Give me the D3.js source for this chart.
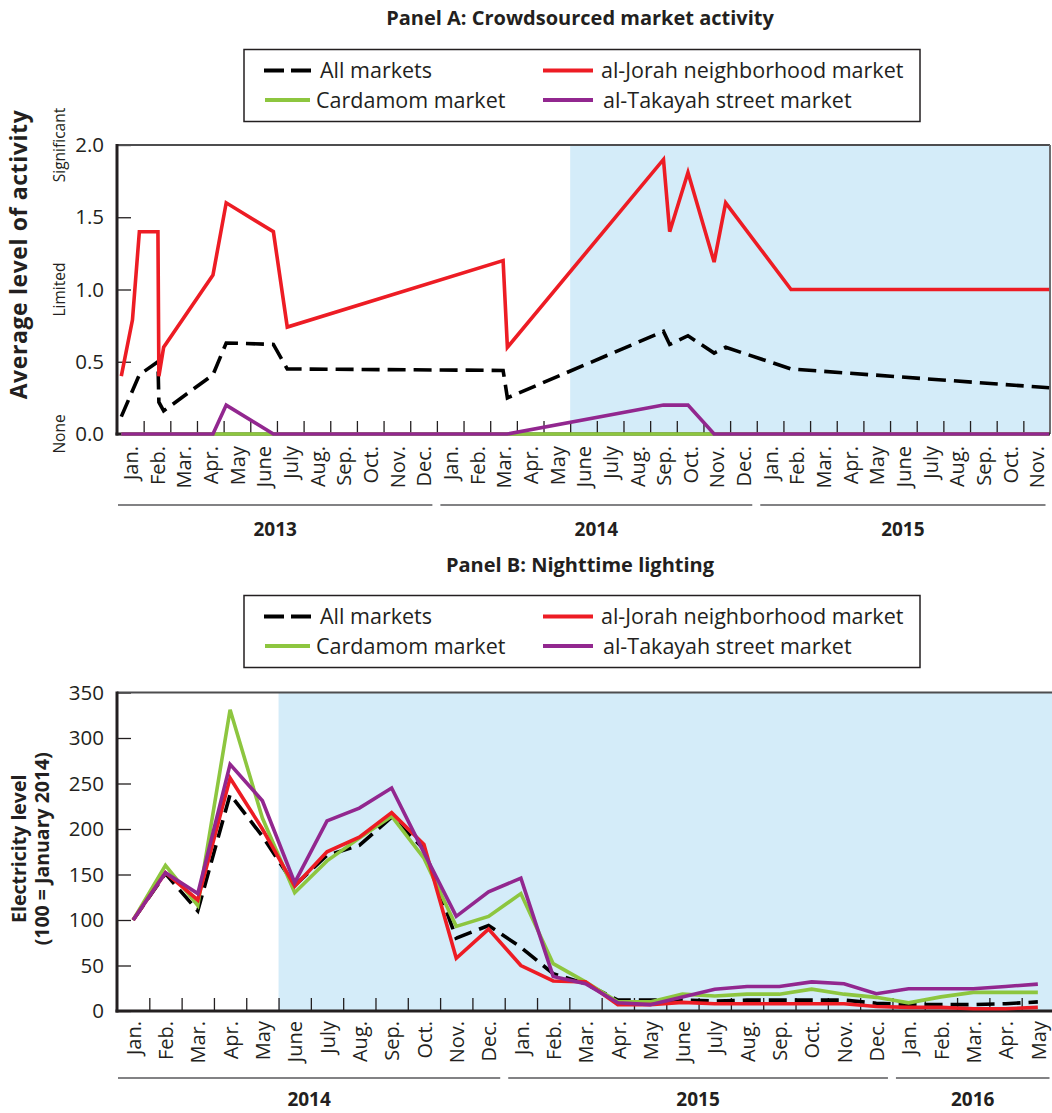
<!DOCTYPE html>
<html><head><meta charset="utf-8">
<script src="https://cdn.jsdelivr.net/npm/d3@7"></script>
<style>
body{margin:0;background:#fff;}
svg text{font-family:"Open Sans","Noto Sans",sans-serif;fill:#231f20;}
</style>
</head><body>
<svg id="chart" width="1052" height="1113"></svg>
<script>
// ---------------- DATA ----------------
const seriesNames = ["All markets", "al-Jorah neighborhood market", "Cardamom market", "al-Takayah street market"];

// Panel A: crowdsourced market activity (date, average level)
const activityAll = [
  ["2013-01-06",0.12],["2013-01-27",0.41],["2013-02-16",0.50],["2013-02-17",0.22],["2013-02-22",0.16],
  ["2013-04-19",0.41],["2013-05-04",0.63],["2013-06-27",0.62],["2013-07-13",0.45],["2014-03-16",0.44],
  ["2014-03-21",0.25],["2014-09-16",0.71],["2014-09-23",0.62],["2014-10-14",0.68],["2014-11-13",0.56],
  ["2014-11-26",0.60],["2015-02-09",0.45],["2015-11-30",0.32]];
const activityJorah = [
  ["2013-01-06",0.40],["2013-01-19",0.79],["2013-01-27",1.40],["2013-02-16",1.40],["2013-02-17",0.40],
  ["2013-02-22",0.60],["2013-04-19",1.10],["2013-05-04",1.60],["2013-06-27",1.40],["2013-07-13",0.74],
  ["2014-03-16",1.20],["2014-03-21",0.60],["2014-09-16",1.90],["2014-09-23",1.40],["2014-10-14",1.81],
  ["2014-11-13",1.19],["2014-11-26",1.60],["2015-02-09",1.00],["2015-11-30",1.00]];
const activityCardamom = [["2013-01-06",0],["2015-11-30",0]];
const activityTakayah = [
  ["2013-01-06",0],["2013-04-19",0],["2013-05-04",0.20],["2013-06-27",0],["2014-03-21",0],
  ["2014-09-16",0.20],["2014-10-14",0.20],["2014-11-13",0],["2015-11-30",0]];
const activityTicks = [0, 0.5, 1.0, 1.5, 2.0];
const activityLevels = [["None",0],["Limited",1],["Significant",2]];
const monthLabelsA = ["Jan.","Feb.","Mar.","Apr.","May","June","July","Aug.","Sep.","Oct.","Nov.","Dec.",
  "Jan.","Feb.","Mar.","Apr.","May","June","July","Aug.","Sep.","Oct.","Nov.","Dec.",
  "Jan.","Feb.","Mar.","Apr.","May","June","July","Aug.","Sep.","Oct.","Nov."];
const yearsA = [["2013",0,12],["2014",12,24],["2015",24,35]];
const shadeStartA = "2014-06-01";

// Panel B: nighttime lighting (monthly, Jan 2014 - May 2016)
const monthLabelsB = ["Jan.","Feb.","Mar.","Apr.","May","June","July","Aug.","Sep.","Oct.","Nov.","Dec.",
  "Jan.","Feb.","Mar.","Apr.","May","June","July","Aug.","Sep.","Oct.","Nov.","Dec.",
  "Jan.","Feb.","Mar.","Apr.","May"];
const lightAll      = [100,151,110,238,192,138,171,182,213,178, 80, 94, 70,41,30,12,12,12,11,12,12,12,12, 8.5, 7, 7, 7, 8,10];
const lightJorah    = [100,152,122,256,200,137,175,191,218,183, 58, 90, 50,33,32, 7, 7,9.5, 8, 8, 8, 8, 8, 5, 4, 4,2.5,2.5, 4];
const lightCardamom = [100,160,116,331,212,130,165,190,214,168, 93,104,129,52,32,10,10,18.5,16.5,18.5,18.5,24,18.5,15, 9,15.5,20.5,20.5,20.5];
const lightTakayah  = [100,152,129,271,231,141,209,223,245,174,104,131,146,38,30, 9, 7,15.5,24,27,27,32,30,19,24.5,24.5,24.5,27,29.5];
const lightTicks = [0,50,100,150,200,250,300,350];
const yearsB = [["2014",0,12],["2015",12,24],["2016",24,29]];
const shadeStartB = 5; // June 2014

// ---------------- DRAWING ----------------
const COL = {all:"#000000", jorah:"#ed1c24", card:"#8dc63f", tak:"#92278f", shade:"#d4ecf9", ink:"#231f20"};
const svg = d3.select("#chart");
svg.append("rect").attr("width",1052).attr("height",1113).attr("fill","#fff");

function monthPos(s, startYear){
  const [y,m,d] = s.split("-").map(Number);
  const dim = new Date(y, m, 0).getDate();
  return (y-startYear)*12 + (m-1) + (d-1)/dim;
}

function drawLegend(top){
  const g = svg.append("g");
  g.append("rect").attr("x",244).attr("y",top).attr("width",676).attr("height",72)
    .attr("fill","#fff").attr("stroke",COL.ink).attr("stroke-width",1.5);
  const items = [
    {label:seriesNames[0], color:COL.all, dash:true, x1:264, x2:312, tx:320, row:0},
    {label:seriesNames[1], color:COL.jorah, x1:543, x2:593, tx:601, row:0},
    {label:seriesNames[2], color:COL.card, x1:265, x2:310, tx:316, row:1},
    {label:seriesNames[3], color:COL.tak, x1:543, x2:593, tx:603, row:1}];
  items.forEach(it=>{
    const y = top + 21 + it.row*29.5;
    g.append("line").attr("x1",it.x1).attr("x2",it.x2).attr("y1",y).attr("y2",y)
      .attr("stroke",it.color).attr("stroke-width",4)
      .attr("stroke-dasharray", it.dash ? "20,7" : null);
    g.append("text").attr("x",it.tx).attr("y",y).attr("dy","0.35em")
      .style("font-size","21.5px").text(it.label);
  });
}

function drawTitle(txt, y, size){
  svg.append("text").attr("x",580).attr("y",y).attr("text-anchor","middle")
    .style("font-size",size).style("font-weight","bold").text(txt);
}

function drawFrame(x, y, left, right, top, bottom, nMonths, labels, labelOffset, years, yearLineY, yearTextY, yTicks, fmt, rightBorder){
  const gT = svg.append("g").attr("transform",`translate(0,${bottom})`)
    .call(d3.axisBottom(x).tickValues(d3.range(1,nMonths)).tickSize(-13).tickFormat(""));
  gT.select(".domain").remove();
  gT.selectAll("line").attr("stroke",COL.ink).attr("stroke-width",1.3);
  const gL = svg.append("g").attr("transform",`translate(0,${bottom})`)
    .call(d3.axisBottom(x).tickValues(d3.range(nMonths).map(i=>i+0.5)).tickSize(0).tickFormat((d,i)=>labels[i]));
  gL.select(".domain").remove();
  gL.attr("font-family",null).attr("font-size",null);
  gL.selectAll("text").attr("transform","rotate(-90)").attr("x",-labelOffset).attr("y",0)
    .attr("dy","0.36em").attr("text-anchor","end").style("font-size","20px");
  const gY = svg.append("g").attr("transform",`translate(${left},0)`)
    .call(d3.axisLeft(y).tickValues(yTicks).tickSize(-14).tickPadding(13).tickFormat(fmt));
  gY.select(".domain").remove();
  gY.attr("font-family",null).attr("font-size",null);
  gY.selectAll("line").attr("stroke",COL.ink).attr("stroke-width",1.3);
  gY.selectAll("text").style("font-size","20.5px");
  svg.append("line").attr("x1",left).attr("x2",right).attr("y1",top).attr("y2",top)
    .attr("stroke","#4d4d4f").attr("stroke-width",2.2);
  if (rightBorder) svg.append("line").attr("x1",right).attr("x2",right).attr("y1",top).attr("y2",bottom)
    .attr("stroke","#6d6e71").attr("stroke-width",2);
  years.forEach(([yr,s,e],i)=>{
    const x1 = x(s) + (i===0?1:3.5), x2 = Math.min(x(e) - 4.5, 1052);
    svg.append("line").attr("x1",x1).attr("x2",x2).attr("y1",yearLineY).attr("y2",yearLineY)
      .attr("stroke","#58595b").attr("stroke-width",1.6);
    svg.append("text").attr("x",(x1+x2)/2).attr("y",yearTextY).attr("text-anchor","middle")
      .style("font-size","19px").style("font-weight","bold").text(yr);
  });
}

function axisLines(left, right, top, bottom){
  svg.append("line").attr("x1",left).attr("x2",left).attr("y1",top-1).attr("y2",bottom+1.5)
    .attr("stroke",COL.ink).attr("stroke-width",3);
  svg.append("line").attr("x1",left-1.5).attr("x2",right).attr("y1",bottom).attr("y2",bottom)
    .attr("stroke",COL.ink).attr("stroke-width",3);
}

// ===== Panel A =====
drawTitle("Panel A: Crowdsourced market activity", 25, "20px");
drawLegend(49.5);
{
  const left=117, right=1050, top=145, bottom=434;
  const x = d3.scaleLinear().domain([0,35]).range([left,right]);
  const y = d3.scaleLinear().domain([0,2]).range([bottom,top]);
  svg.append("rect").attr("x",x(monthPos(shadeStartA,2013))).attr("y",top)
    .attr("width",right-x(monthPos(shadeStartA,2013))).attr("height",bottom-top).attr("fill",COL.shade);
  drawFrame(x, y, left, right, top, bottom, 35, monthLabelsA, 12, yearsA, 505, 536, activityTicks, d3.format(".1f"), true);
  axisLines(left, right, top, bottom);
  const line = d3.line().x(d=>x(monthPos(d[0],2013))).y(d=>y(d[1]));
  [[activityCardamom,COL.card,null],[activityTakayah,COL.tak,null],[activityAll,COL.all,"18,8"],[activityJorah,COL.jorah,null]]
    .forEach(([data,c,dash])=>{
      svg.append("path").datum(data).attr("d",line).attr("fill","none").attr("stroke",c)
        .attr("stroke-width",3.6).attr("stroke-linejoin","miter").attr("stroke-dasharray",dash);
    });
  svg.append("text").attr("transform",`translate(27,${(top+bottom)/2 - 35}) rotate(-90)`)
    .attr("text-anchor","middle").style("font-size","23px").style("font-weight","bold")
    .style("letter-spacing","0.6px").text("Average level of activity");
  activityLevels.forEach(([lab,v])=>{
    svg.append("text").attr("transform",`translate(65,${y(v)}) rotate(-90)`)
      .attr("text-anchor","middle").style("font-size","15.5px").text(lab);
  });
}

// ===== Panel B =====
drawTitle("Panel B: Nighttime lighting", 572, "20px");
drawLegend(595.5);
{
  const left=117, right=1054, top=692.5, bottom=1011;
  const x = d3.scaleLinear().domain([0,29]).range([left,right]);
  const y = d3.scaleLinear().domain([0,350]).range([bottom,top]);
  svg.append("rect").attr("x",x(shadeStartB)).attr("y",top)
    .attr("width",right-x(shadeStartB)).attr("height",bottom-top).attr("fill",COL.shade);
  drawFrame(x, y, left, right, top, bottom, 29, monthLabelsB, 10, yearsB, 1078, 1106, lightTicks, d3.format("d"), false);
  axisLines(left, right, top, bottom);
  const line = d3.line().x((d,i)=>x(i+0.5)).y(d=>y(d));
  [[lightAll,COL.all,"18,8"],[lightCardamom,COL.card,null],[lightJorah,COL.jorah,null],[lightTakayah,COL.tak,null]]
    .forEach(([data,c,dash])=>{
      svg.append("path").datum(data).attr("d",line).attr("fill","none").attr("stroke",c)
        .attr("stroke-width",3.6).attr("stroke-linejoin","miter").attr("stroke-dasharray",dash);
    });
  const cy = (top+bottom)/2 - 3;
  svg.append("text").attr("transform",`translate(26,${cy}) rotate(-90)`)
    .attr("text-anchor","middle").style("font-size","19.5px").style("font-weight","bold").text("Electricity level");
  svg.append("text").attr("transform",`translate(49,${cy}) rotate(-90)`)
    .attr("text-anchor","middle").style("font-size","19.5px").style("font-weight","bold").text("(100 = January 2014)");
}
</script>
</body></html>
